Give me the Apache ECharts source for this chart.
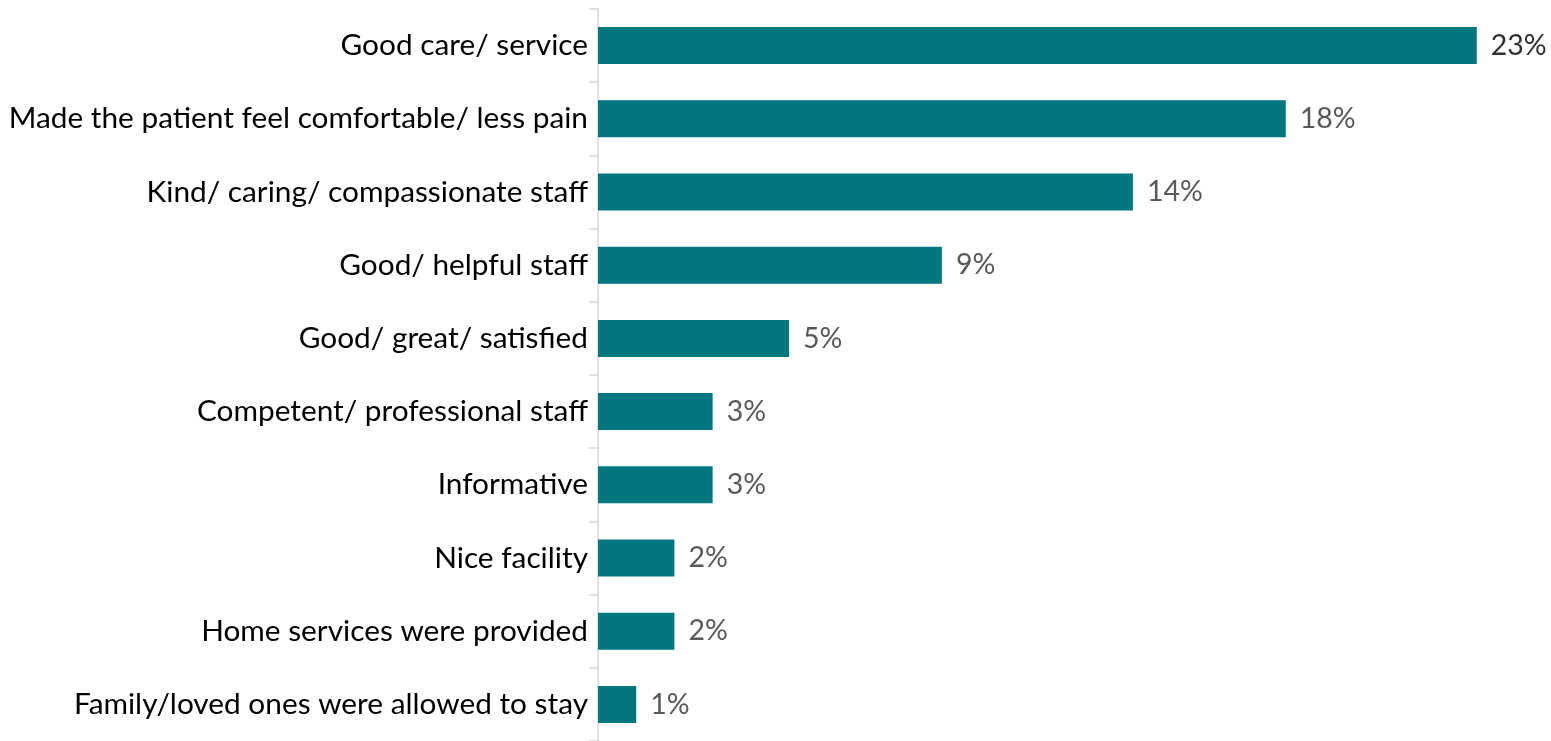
<!DOCTYPE html>
<html>
<head>
<meta charset="utf-8">
<script src="https://cdn.jsdelivr.net/npm/echarts@6/dist/echarts.min.js"></script>
<style>
  html, body { margin: 0; padding: 0; background: #fff; }
  #chart { width: 1551px; height: 741px; }
</style>
</head>
<body>
<div id="chart"></div>
<script>
// Reasons given for a positive experience (% of respondents)
const categories = [
  'Good care/ service',
  'Made the patient feel comfortable/ less pain',
  'Kind/ caring/ compassionate staff',
  'Good/ helpful staff',
  'Good/ great/ satisfied',
  'Competent/ professional staff',
  'Informative',
  'Nice facility',
  'Home services were provided',
  'Family/loved ones were allowed to stay'
];
const values = [23, 18, 14, 9, 5, 3, 3, 2, 2, 1];

const FONT = 'Lato, "Open Sans", sans-serif';

const chart = echarts.init(document.getElementById('chart'), null, { renderer: 'canvas' });
chart.setOption({
  animation: false,
  grid: { left: 598, top: 9, width: 917, height: 734 },
  xAxis: {
    type: 'value',
    min: 0,
    max: 24,
    show: false
  },
  yAxis: {
    type: 'category',
    data: categories,
    inverse: true,
    axisLine: { show: true, lineStyle: { color: '#D9D9D9', width: 1.5 } },
    axisTick: { show: true, length: 9, lineStyle: { color: '#D9D9D9', width: 1.5 } },
    axisLabel: {
      margin: 10,
      color: '#000000',
      fontFamily: FONT,
      fontSize: 29.8
    }
  },
  series: [{
    type: 'bar',
    data: values.map((v, i) => ({
      value: v,
      label: i === 0 ? { color: '#303030' } : undefined
    })),
    barWidth: 37,
    itemStyle: { color: '#00767F' },
    label: {
      show: true,
      position: 'right',
      distance: 14,
      formatter: p => p.value + '%',
      color: '#595959',
      fontFamily: FONT,
      fontSize: 28.5
    }
  }]
});
</script>
</body>
</html>
